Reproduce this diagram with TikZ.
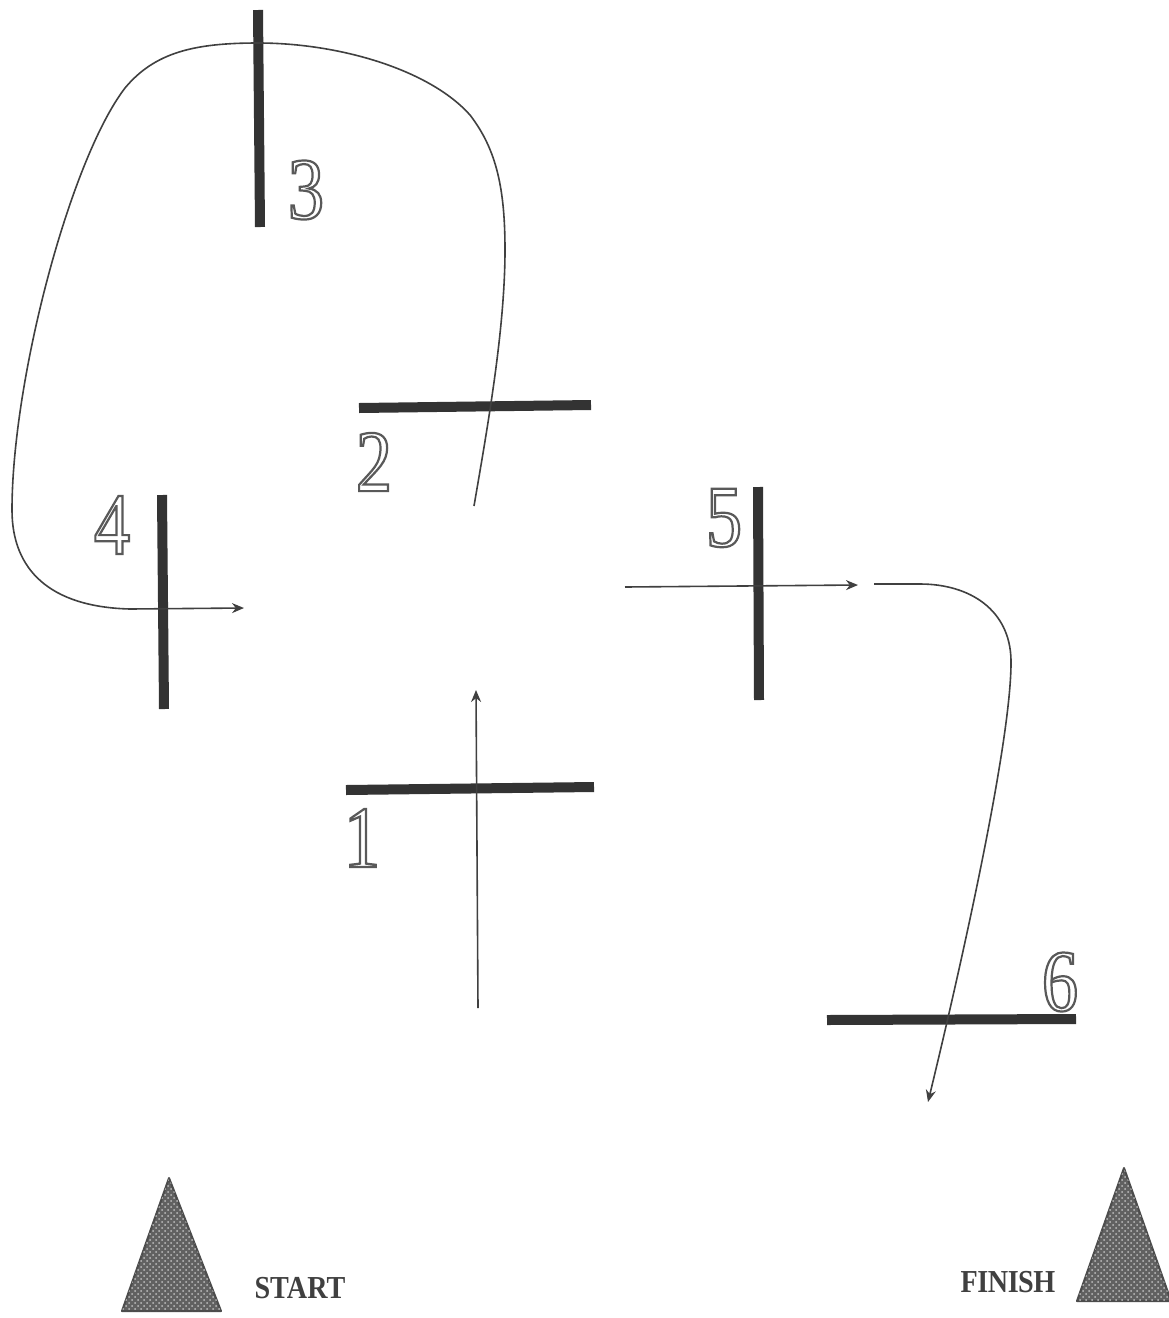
\documentclass[tikz,border=0pt]{standalone}
\usepackage{fontspec}
\setmainfont{Liberation Serif}
\newfontfamily\gatefont[FakeStretch=0.82]{Liberation Serif}
\newfontfamily\markfont[FakeStretch=0.88]{Liberation Serif}
\usetikzlibrary{arrows.meta,patterns}
\newcommand{\outlinedigit}[1]{\special{pdf:code 1 Tr 1.1 w}#1\special{pdf:code 0 Tr}}
\tikzset{
    gatebar/.style={draw=black!80, line width=5pt},
    courseline/.style={draw=black!75, line width=0.8pt},
    coursearrow/.style={courseline, -{Stealth[length=6pt, width=5pt]}},
    conemark/.style={draw=black!70, fill=black!62, line width=1pt, line join=round,
        postaction={pattern=crosshatch dots, pattern color=white!75!black}},
    gatelabel/.style={font=\gatefont\fontsize{44}{44}\selectfont, text=black!65, inner sep=0pt},
    marklabel/.style={font=\markfont\fontsize{16}{16}\selectfont\bfseries, text=black!75, inner sep=0pt}
}
\begin{document}
\begin{tikzpicture}[x=0.5pt, y=-0.5pt]
    \useasboundingbox (0,0) rectangle (1168,1318);
    \fill[white] (0,0) rectangle (1168,1318);
    % gates
    \draw[gatebar] (258,10) -- (260,227);
    \draw[gatebar] (359,408) -- (591,405);
    \draw[gatebar] (162,495) -- (164,709);
    \draw[gatebar] (758,487) -- (759,700);
    \draw[gatebar] (346,790) -- (594,787);
    \draw[gatebar] (827,1020) -- (1076,1019);
    \node[gatelabel] (three) at (306,190) {\outlinedigit{3}};
    \node[gatelabel] (two) at (374,462) {\outlinedigit{2}};
    \node[gatelabel] (four) at (112,525) {\outlinedigit{4}};
    \node[gatelabel] (five) at (724,518) {\outlinedigit{5}};
    \node[gatelabel] (one) at (362,838) {\outlinedigit{1}};
    \node[gatelabel] (six) at (1060,982) {\outlinedigit{6}};
    % course
    \draw[coursearrow] (478,1008) -- (476,690);
    \draw[coursearrow] (474,506) .. controls (487,430) and (505,330) .. (505,250)
        .. controls (505,190) and (497,150) .. (470,115)
        .. controls (430,70) and (340,43) .. (258,43)
        .. controls (195,43) and (155,52) .. (125,88)
        .. controls (70,160) and (12,380) .. (12,510)
        .. controls (12,570) and (50,607) .. (130,609)
        -- (244,608);
    \draw[coursearrow] (625,587) -- (858,585);
    \draw[coursearrow] (874,584) -- (920,584)
        .. controls (970,584) and (1010,610) .. (1011,660)
        .. controls (1012,740) and (960,970) .. (928,1102);
    % start and finish
    \draw[conemark] (169,1178) -- (122,1311) -- (221,1311) -- cycle;
    \draw[conemark] (1124,1168) -- (1077,1301) -- (1171,1301) -- cycle;
    \node[marklabel] (start) at (300,1288) {START};
    \node[marklabel] (finish) at (1008,1282) {\addfontfeature{LetterSpace=-1.5}FINISH};
\end{tikzpicture}
\end{document}
